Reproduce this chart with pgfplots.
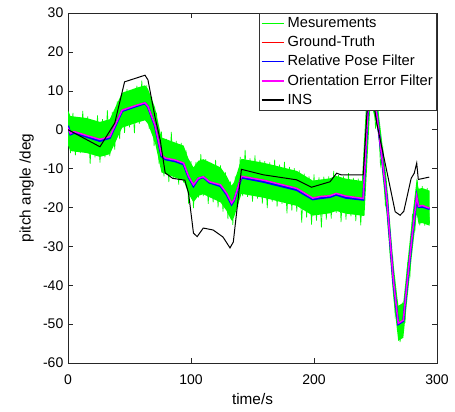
\documentclass[border=0pt]{standalone}
\usepackage{fontspec}
\setmainfont{Liberation Sans}
\usepackage{pgfplots}
\pgfplotsset{compat=1.18}
\definecolor{mgreen}{rgb}{0,1,0}
\definecolor{mmag}{rgb}{1,0,1}
\begin{document}
\begin{tikzpicture}
\begin{axis}[
  scale only axis, width=276.75pt, height=262.5pt,
  xmin=0, xmax=300, ymin=-60, ymax=30,
  xtick={0,100,200,300}, ytick={-60,-50,...,30},
  tick align=inside, tick pos=both, major tick length=4pt,
  axis line style={black!85}, every tick/.style={black!85},
  /pgf/number format/assume math mode=true,
  tick label style={font=\fontsize{10.5}{12}\selectfont},
  xticklabel shift=5pt,
  label style={font=\fontsize{11.5}{13}\selectfont},
  xlabel={time/s}, ylabel={pitch angle /deg},
  legend style={at={(1,1)}, anchor=north east, draw=black!80, font=\fontsize{11}{13}\selectfont, row sep=1pt, inner sep=1pt},
  legend cell align=left,
  legend image post style={line width=0.9pt},
]
% measurements: dense core band
\addplot[fill=mgreen, draw=none, forget plot] coordinates {
(0,5)(2,3.5)(15,3)(26,2)(34,2.7)(44,9.5)(56,10.8)(62.6,11.4)(65,10.5)(70.7,5.7)(76,-2)(87,-3.3)(94,-4.1)(98,-7.5)(102,-9.7)(106,-8)(110,-7.6)(124,-9.7)(129,-11.9)(133,-14.4)(135,-13.5)(141,-7.5)(159,-8.5)(186,-10.6)(199,-13.1)(213,-12.5)(218,-11.9)(226,-12.6)(239,-13.2)(244,16.5)(251,8.5)(259,-12.7)(264.5,-34.2)(268.5,-45.3)(272.6,-44.5)(275.4,-35.9)(279.4,-23.9)(283.5,-12.6)(285,-15.2)(288,-15)(294,-15.7)
(294,-24.7)(288,-24)(285,-24.2)(283.5,-21.6)(279.4,-32.9)(275.4,-44.9)(272.6,-53.5)(268.5,-54.3)(264.5,-43.2)(259,-21.7)(252,-0.5)(246,7.5)(241,-22.2)(226,-21.6)(218,-20.9)(213,-21.5)(199,-22.1)(186,-19.6)(159,-17.5)(141,-16.5)(135,-22.5)(133,-23.4)(129,-20.9)(124,-18.7)(110,-16.6)(106,-17)(102,-18.7)(98,-16.5)(94,-13.1)(87,-12.3)(76,-11)(70.7,-3.3)(65,1.5)(62.6,2.4)(56,1.8)(44,0.5)(34,-6.3)(26,-7)(15,-6)(2,-5.5)(0,-4)
};
\addplot[mgreen, line width=0.5pt] coordinates {
(0,4.5)(2,-6)(4,4.3)(6,-6.6)(8,3.2)(10,-6)(12,4.8)(14,-5.4)(16,3.4)(18,-8.8)
(20,2)(22,-7.1)(24,3.7)(26,-8.5)(28,2.7)(30,-7.1)(32,5)(34,-6.8)(36,4.6)(38,-5.1)
(40,7.3)(42,-2.4)(44,9)(46,-0.8)(48,10.4)(50,0.6)(52,9.8)(54,-0.9)(56,11.3)(58,1.5)
(60,12.6)(62,2.8)(64,11.4)(66,0.2)(68,8.5)(70,-4.2)(72,4.4)(74,-8.7)(76,-0.5)(78,-12)
(80,-2.4)(82,-13.5)(84,-0.6)(86,-12.7)(88,-2.9)(90,-14.1)(92,-3.4)(94,-13.6)(96,-5.3)(98,-19)
(100,-8.1)(102,-20.2)(104,-8.3)(106,-17.5)(108,-6.3)(110,-17.1)(112,-7.6)(114,-19.1)(116,-8.5)(118,-18.7)
(120,-7.8)(122,-20)(124,-9.2)(126,-21.1)(128,-11)(130,-23)(132,-13.3)(134,-24.5)(136,-12)(138,-20)
(140,-7)(142,-17.1)(144,-5.2)(146,-17.3)(148,-7.4)(150,-18.5)(152,-6.6)(154,-17.7)(156,-7.8)(158,-19)
(160,-8.1)(162,-20.2)(164,-8.4)(166,-18.5)(168,-7.7)(170,-19.8)(172,-9)(174,-19.1)(176,-8.3)(178,-21.5)
(180,-9.6)(182,-20.8)(184,-9.9)(186,-21.1)(188,-10.5)(190,-23.9)(192,-11.3)(194,-22.6)(196,-12)(198,-24.4)
(200,-11.5)(202,-23.4)(204,-12.3)(206,-25.2)(208,-12.1)(210,-23.1)(212,-12)(214,-22.9)(216,-10.6)(218,-21.4)
(220,-11.6)(222,-23.8)(224,-12)(226,-23.1)(228,-11.2)(230,-22.3)(232,-12.4)(234,-23.5)(236,-12.6)(238,-24.6)
(240,-12.7)(242,-10.9)(244,10.1)(246,6.7)(248,12)(250,0.3)(252,5.3)(254,-9.1)(256,-5.1)(258,-19.5)
(260,-17.1)(262,-32.9)(264,-32.7)(266,-47.8)(268,-44.4)(270,-54.6)(272,-45.1)(274,-49.7)(276,-34.6)(278,-37.6)
(280,-21.7)(282,-26.2)(284,-13)(286,-24.6)(288,-14.5)(290,-24.7)(292,-15)(294,-24.2)
};
\addlegendentry{Mesurements}
\addplot[red, line width=0.8pt] coordinates {
(0,0.5)(2,-1)(5,-0.5)(15,-1.5)(26,-2.5)(34,-1.8)(44,5)(56,6.3)(62.6,6.9)(65,6)(70.7,1.2)(76,-6.5)(79,-7.3)(87,-7.8)(94,-8.6)(98,-12)(102,-14.2)(106,-12.5)(110,-12.1)(115,-13.4)(124,-14.2)(129,-16.4)(133,-18.9)(135,-18)(141,-12)(159,-13)(186,-15.1)(199,-17.6)(205,-17.2)(213,-17)(218,-16.4)(226,-17.1)(240,-17.7)(245,12)(251,4)(259,-17.2)(264.5,-38.7)(268.5,-49.8)(272.6,-49)(275.4,-40.4)(279.4,-28.4)(283.5,-17.1)(285,-19.7)(288,-19.5)(294,-20.2)
};
\addlegendentry{Ground-Truth}
\addplot[blue, line width=1.6pt] coordinates {
(0,1)(2,-1.2)(5,-0.8)(15,-1.8)(26,-2.9)(34,-2.1)(44,4.8)(56,6.1)(62.6,6.8)(65,5.9)(70.7,1)(76,-6.8)(79,-7.6)(87,-8.1)(94,-8.9)(98,-12.2)(102,-14.5)(106,-12.6)(110,-12.2)(115,-13.6)(124,-14.5)(129,-16.7)(133,-19.2)(135,-18.2)(141,-12.3)(159,-13.4)(186,-15.5)(199,-17.9)(205,-17.6)(213,-17.3)(218,-16.7)(226,-17.5)(240,-18)(245,12)(251,4)(259,-17.2)(264.5,-38.9)(268.5,-50)(272.6,-49.2)(275.4,-40.6)(279.4,-28.6)(283.5,-17.3)(285,-19.9)(288,-19.8)(294,-20.4)
};
\addlegendentry{Relative Pose Filter}
\addplot[mmag, line width=1.1pt] coordinates {
(0,0.5)(2,-1)(5,-0.5)(15,-1.5)(26,-2.5)(34,-1.8)(44,5)(56,6.3)(62.6,6.9)(65,6)(70.7,1.2)(76,-6.5)(79,-7.3)(87,-7.8)(94,-8.6)(98,-12)(102,-14.2)(106,-12.5)(110,-12.1)(115,-13.4)(124,-14.2)(129,-16.4)(133,-18.9)(135,-18)(141,-12)(159,-13)(186,-15.1)(199,-17.6)(205,-17.2)(213,-17)(218,-16.4)(226,-17.1)(240,-17.7)(245,12)(251,4)(259,-17.2)(264.5,-38.7)(268.5,-49.8)(272.6,-49)(275.4,-40.4)(279.4,-28.4)(283.5,-17.1)(285,-19.7)(288,-19.5)(294,-20.2)
};
\addlegendentry{Orientation Error Filter}
\addplot[black, line width=0.75pt] coordinates {
(0,0)(26,-4.4)(38,1.7)(46,12.3)(62.6,14)(65,12.8)(70.7,3.3)(75,-2.7)(79,-11.1)(85,-12.5)(95,-13)(98,-16.3)(102,-26.6)(105,-27.5)(110,-25.3)(118,-25.8)(126,-27.6)(131.7,-30.4)(134.4,-28.9)(141,-10.2)(158.7,-11.6)(186,-12.9)(198,-14.8)(213,-13.4)(218.4,-11.2)(222,-11.6)(240,-11.6)(243,4)(246,12)(251,1.7)(259,-10.4)(266,-21.1)(270,-22)(273,-21)(279,-12.5)(281.5,-11.2)(283.5,-8.6)(284.8,-12.8)(293.7,-12.2)
};
\addlegendentry{INS}
\end{axis}
\path ([shift={(-51pt,-36.75pt)}]current axis.south west) rectangle ([shift={(13.5pt,9.75pt)}]current axis.north east);
\end{tikzpicture}
\end{document}
